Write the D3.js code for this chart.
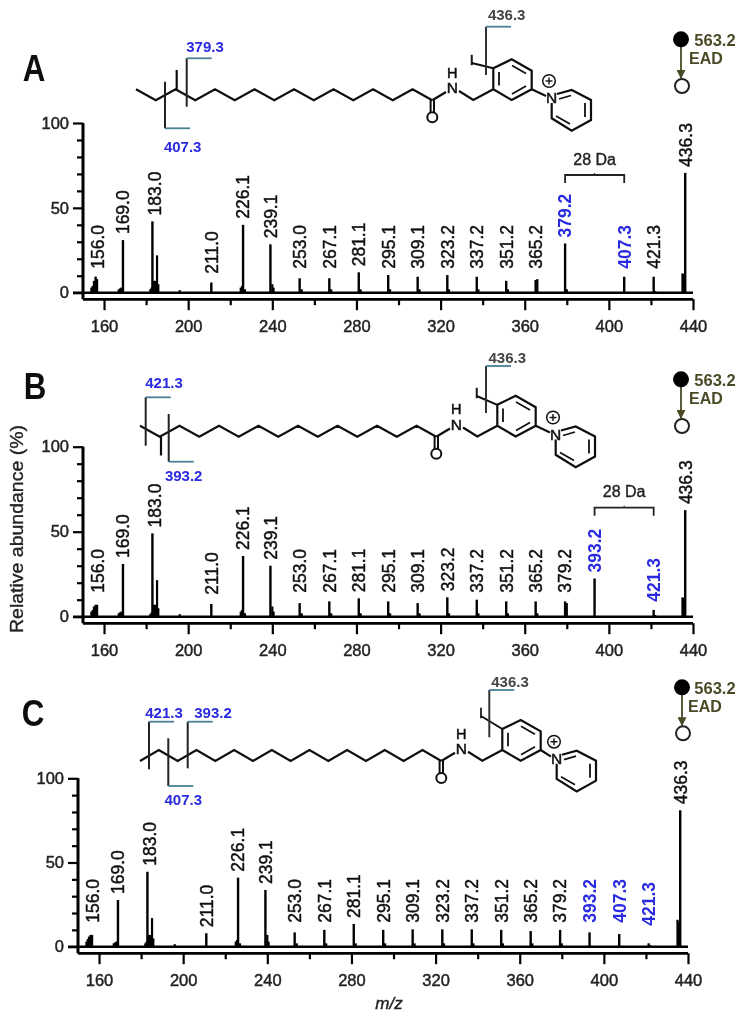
<!DOCTYPE html>
<html><head><meta charset="utf-8">
<script src="https://cdn.jsdelivr.net/npm/d3@7/dist/d3.min.js"></script>
<style>html,body{margin:0;padding:0;background:#fff}svg{display:block}
text{font-family:"Liberation Sans",Arial,sans-serif;paint-order:stroke}</style></head>
<body><svg id="c" width="750" height="1023"></svg>
<script>
// ---------- data ----------
const labelsA = ["156.0","169.0","183.0","211.0","226.1","239.1","253.0","267.1","281.1","295.1","309.1","323.2","337.2","351.2","365.2","379.2","407.3","421.3","436.3"];
const valuesA = [9.5,31,42,6,40,28.5,8.5,8.5,12,10.4,9.4,10.4,9.4,7,7.5,29,9.4,9.4,70.6];
const blueA = ["379.2","407.3"];
const labelsB = ["156.0","169.0","183.0","211.0","226.1","239.1","253.0","267.1","281.1","295.1","309.1","323.2","337.2","351.2","365.2","379.2","393.2","421.3","436.3"];
const valuesB = [7,31,49,7.5,35.7,30,8,9,10.8,9,8,11.4,10,9,9,9,22.5,4,62.7];
const blueB = ["393.2","421.3"];
const labelsC = ["156.0","169.0","183.0","211.0","226.1","239.1","253.0","267.1","281.1","295.1","309.1","323.2","337.2","351.2","365.2","379.2","393.2","407.3","421.3","436.3"];
const valuesC = [7,27.7,44.5,8,41,33.7,8.5,10,13.5,10,10.3,10.3,10.3,10,9.3,10,8.5,7.5,2,81];
const blueC = ["393.2","407.3","421.3"];
// smaller unlabelled peaks
const minorMz = [154,154.6,155.2,156.7,167,167.6,168.2,182,182.6,183.6,184.2,184.7,185.2,185.8,196,225,225.6,227,240,240.6,254,268,282,296,310,324,338,352,366,380,422,435,435.5];
const minorA  = [3,4,7,8,2,2.5,3,2,3,7,7,6,22,5,1.5,3,4,2,5,3,2,2,2,2,2,2,2,2,8,2,1,11.4,11];
const minorB  = [3,4,6,7,2,2.5,3,1.5,2.5,7,7,6,21.5,5,1.5,3,4,2,6,3,2,2,2,2,2,2,2,2,2,8,1,11.4,11];
const minorC  = [3,4.5,6,7,2,2.5,3,2,3,7,7,6,17,5,1.5,3,4,2,7,3,2,2,2,2,2,2,2,2,2,2,1,16,15];
const yMajor = [0,50,100];
const yMinor = [10,20,30,40,60,70,80,90];
const xMajor = [160,200,240,280,320,360,400,440];
const xMinor = [180,220,260,300,340,380,420];
const fragTitle = "563.2", fragMethod = "EAD", ionLabel = "436.3", gapLabel = "28 Da";
const yTitle = "Relative abundance (%)", xTitle = "m/z";

// ---------- layout ----------
const panels = [
 {name:"A",labels:labelsA,values:valuesA,blue:blueA,minor:minorA,x0:83,x1:693,y0:292.7,y100:123,
  letter:[34,81],bracket:["379.2","407.3",175],lift:{"211.0":19},
  mol:{dx:0,dy:0,pyDx:0,chainX:136,chainN:15,startHigh:true,branch:[176.7,90,70],
   cuts:[{x:165,y1:81.7,y2:128.3,top:false,label:"407.3",lx:182.7,ly:146.7},
         {x:186.7,y1:58.3,y2:106.7,top:true,label:"379.3",lx:205,ly:46.7}],
   ring:{cx:486,y1:26.7,y2:75,lx:506.7,ly:15,ix:471.7,iy:60}},
  ead:{cx:681,y1:39.3,y2:86,lx:715,ly:40,ex:706,ey:58}},
 {name:"B",labels:labelsB,values:valuesB,blue:blueB,minor:minorB,x0:83,x1:693,y0:616.7,y100:446.7,
  letter:[35,399],bracket:["393.2","421.3",507.7],lift:{"211.0":22,"421.3":15},
  mol:{dx:4,dy:336.5,pyDx:0,chainX:136,chainN:15,startHigh:true,branch:[157,100.3,119],
   cuts:[{x:145.7,y1:397.3,y2:445.7,top:true,label:"421.3",lx:164,ly:382.7},
         {x:168.7,y1:414,y2:461.7,top:false,label:"393.2",lx:183.7,ly:475.7}],
   ring:{cx:486,y1:366,y2:413,lx:507.3,ly:357.3,ix:476.7,iy:393}},
  ead:{cx:681,y1:379.3,y2:426,lx:715,ly:380,ex:706,ey:398}},
 {name:"C",labels:labelsC,values:valuesC,blue:blueC,minor:minorC,x0:78,x1:688,y0:946.7,y100:778.3,
  letter:[33,726],bracket:null,lift:{"211.0":19,"421.3":21},
  mol:{dx:9,dy:660.7,pyDx:-4,chainX:131,chainN:16,startHigh:false,branch:null,
   cuts:[{x:149,y1:721.7,y2:769.3,top:true,label:"421.3",lx:164,ly:712.7},
         {x:187.7,y1:721.7,y2:768.3,top:true,label:"393.2",lx:213,ly:712.7},
         {x:168.3,y1:738.3,y2:786,top:false,label:"407.3",lx:183.3,ly:800}],
   ring:{cx:489.3,y1:690,y2:737.3,lx:510,ly:681.7,ix:481,iy:713}},
  ead:{cx:682,y1:687.3,y2:733.3,lx:715,ly:688,ex:705,ey:706}}
];
const BLUE="#2a2ae0", TEAL="#4a7f95", OLIVE="#4a4a28", INK="#111";

const svg = d3.select("#c");
const defs = svg.append("defs");
defs.append("filter").attr("id","soft").attr("x",0).attr("y",0).attr("width",1).attr("height",1)
  .attr("filterUnits","objectBoundingBox")
  .append("feGaussianBlur").attr("stdDeviation",0.5);
defs.append("marker").attr("id","arr").attr("viewBox","0 0 10 10").attr("refX",9).attr("refY",5)
  .attr("markerWidth",9).attr("markerHeight",9).attr("markerUnits","userSpaceOnUse").attr("orient","auto")
  .append("path").attr("d","M0,0L10,5L0,10Z").attr("fill",OLIVE);
const root = svg.append("g").attr("filter","url(#soft)");
root.append("rect").attr("width",750).attr("height",1023).attr("fill","#fff");

const line = d3.line();
function seg(g,pts,w,c){g.append("path").attr("d",line(pts)).attr("fill","none").attr("stroke",c||INK).attr("stroke-width",w||1.8).attr("stroke-linejoin","miter");}
function txt(g,s,x,y,size,opt){opt=opt||{};const fill=opt.fill||INK;return g.append("text").text(s).attr("x",x).attr("y",y).attr("dy",".36em")
  .attr("text-anchor",opt.anchor||"middle").attr("font-size",size).attr("font-weight",opt.weight||"normal")
  .attr("fill",fill).attr("stroke",opt.halo?fill:"none").attr("stroke-width",opt.halo||0);}

function molecule(p){
  const m=p.mol;
  const g=root.append("g");
  const r=g.append("g").attr("transform",`translate(${m.dx},${m.dy})`);
  const HI=89.3,LO=100.3, end=432.3;
  const step=(end-m.chainX)/m.chainN;
  const chain=d3.range(m.chainN+1).map(i=>[m.chainX+i*step,((i%2===0)===m.startHigh)?HI:LO]);
  seg(r,chain,2.2);
  seg(r,[[430.6,99.5],[430.6,112.5]],2); seg(r,[[434,99.5],[434,112.5]],2);
  r.append("circle").attr("cx",432.3).attr("cy",117.3).attr("r",5).attr("fill","#fff").attr("stroke",INK).attr("stroke-width",2);
  seg(r,[[432.3,100.3],[446,92]],2.2); seg(r,[[459,91],[473.3,100],[493.3,89.3]],2.2);
  txt(r,"N",452.3,87.5,15.5,{halo:.5}); txt(r,"H",452.3,72.7,14.5,{halo:.5});
  const hex=[[493.3,89.3],[493.3,68.3],[511.7,59.3],[531.7,70.7],[531.7,89.3],[511.7,100],[493.3,89.3]];
  seg(r,hex,2.2);
  seg(r,[[499,72],[499,85.5]],1.8); seg(r,[[512,65.5],[526,73.5]],1.8); seg(r,[[512,94],[526,86]],1.8);
  const py=r.append("g").attr("transform",`translate(${m.pyDx},0)`);
  seg(r,[[531.7,89.3],[546+m.pyDx,96]],2.2);
  seg(py,[[557,94],[571.7,90],[591,100],[591,120],[571.7,130.7],[551.7,118.3],[551.7,103]],2.2);
  seg(py,[[559,99],[571,95.5]],1.8); seg(py,[[585,103],[585,117]],1.8); seg(py,[[570,124],[556,116]],1.8);
  txt(py,"N",551.7,97.7,15.5,{halo:.5});
  py.append("circle").attr("cx",549).attr("cy",81).attr("r",6.3).attr("fill","#fff").attr("stroke",INK).attr("stroke-width",1.5);
  seg(py,[[545.5,81],[552.5,81]],1.4); seg(py,[[549,77.5],[549,84.5]],1.4);
  if(m.branch){const b=m.branch; seg(r,[[b[0],b[1]],[b[0],b[2]]],2.2);}
  // iodine stub + ring cleavage
  const q=m.ring;
  seg(g,[[q.ix,q.iy+3],[493.3+m.dx,68.3+m.dy]],2);
  txt(g,"I",q.ix,q.iy,14,{halo:.6});
  seg(g,[[q.cx,q.y1],[q.cx,q.y2]],2,"#333");
  seg(g,[[q.cx,q.y1],[q.cx+25,q.y1]],1.8,TEAL);
  txt(g,ionLabel,q.lx,q.ly,15,{weight:"bold",fill:"#444"});
  // chain cleavages
  m.cuts.forEach(c=>{
    seg(g,[[c.x,c.y1],[c.x,c.y2]],2,"#222");
    const yy=c.top?c.y1:c.y2;
    seg(g,[[c.x,yy],[c.x+25,yy]],1.8,TEAL);
    txt(g,c.label,c.lx,c.ly,15,{weight:"bold",fill:BLUE});
  });
}

function eadMark(p){
  const e=p.ead,g=root.append("g");
  g.append("line").attr("x1",e.cx).attr("x2",e.cx).attr("y1",e.y1+6).attr("y2",e.y2-8)
    .attr("stroke",OLIVE).attr("stroke-width",1.8).attr("marker-end","url(#arr)");
  g.append("circle").attr("cx",e.cx).attr("cy",e.y1).attr("r",8).attr("fill","#000");
  g.append("circle").attr("cx",e.cx+1).attr("cy",e.y2).attr("r",7).attr("fill","#fff").attr("stroke","#222").attr("stroke-width",2);
  txt(g,fragTitle,e.lx,e.ly,16.5,{weight:"bold",fill:OLIVE});
  txt(g,fragMethod,e.ex,e.ey,16,{weight:"bold",fill:OLIVE});
}

panels.forEach(p=>{
  const x=d3.scaleLinear().domain([150,440]).range([p.x0,p.x1]);
  const y=d3.scaleLinear().domain([0,100]).range([p.y0,p.y100]);
  const axisY=p.y0+6.5;
  const g=root.append("g");

  g.selectAll(".mn").data(minorMz.map((m,i)=>({m,v:p.minor[i]}))).join("line")
    .attr("x1",d=>x(d.m)).attr("x2",d=>x(d.m)).attr("y1",y(0)).attr("y2",d=>y(d.v))
    .attr("stroke","#000").attr("stroke-width",2.2);
  g.selectAll(".pk").data(p.labels.map((l,i)=>({l,m:+l,v:p.values[i]}))).join("line")
    .attr("x1",d=>x(d.m)).attr("x2",d=>x(d.m)).attr("y1",y(0)).attr("y2",d=>y(d.v))
    .attr("stroke","#000").attr("stroke-width",2.4);

  g.selectAll(".lb").data(p.labels.map((l,i)=>({l,m:+l,v:p.values[i]}))).join("text")
    .text(d=>d.l)
    .attr("transform",d=>{
      const lift=p.lift[d.l]||24;
      const by=Math.min(y(d.v)-6,y(0)-lift);
      const off=(d.l==="156.0"||d.l==="183.0")?2:0;
      return `translate(${x(d.m)+off},${by}) rotate(-90)`;})
    .attr("dy",".36em").attr("font-size",17.5)
    .attr("fill",d=>p.blue.includes(d.l)?BLUE:INK)
    .attr("stroke",d=>p.blue.includes(d.l)?"none":INK).attr("stroke-width",.45)
    .attr("font-weight",d=>p.blue.includes(d.l)?"bold":"normal");

  g.append("line").attr("x1",p.x0-10).attr("x2",p.x1).attr("y1",y(0)).attr("y2",y(0)).attr("stroke","#000").attr("stroke-width",2.6);

  const ax=g.append("g").attr("transform",`translate(0,${axisY})`)
    .call(d3.axisBottom(x).tickValues(xMajor).tickSize(11).tickPadding(10).tickFormat(d3.format("d")));
  ax.append("g").call(d3.axisBottom(x).tickValues(xMinor).tickSize(6).tickFormat(""));
  ax.selectAll(".domain").attr("d",`M${p.x0},0H${p.x1}`).attr("stroke","#000").attr("stroke-width",2.6);
  ax.selectAll(".tick line").attr("stroke","#000").attr("stroke-width",2.2);
  ax.selectAll(".tick text").attr("font-size",16.5).attr("font-family",'"Liberation Sans",Arial,sans-serif').attr("fill","#222").attr("stroke","#222").attr("stroke-width",.45);

  const ay=g.append("g").attr("transform",`translate(${p.x0},0)`)
    .call(d3.axisLeft(y).tickValues(yMajor).tickSize(10).tickPadding(4).tickFormat(d3.format("d")));
  ay.append("g").call(d3.axisLeft(y).tickValues(yMinor).tickSize(6).tickFormat(""));
  ay.selectAll(".domain").attr("d",`M0,${p.y100}V${axisY}`).attr("stroke","#000").attr("stroke-width",2.6);
  ay.selectAll(".tick line").attr("stroke","#000").attr("stroke-width",2.2);
  ay.selectAll(".tick text").attr("font-size",16.5).attr("font-family",'"Liberation Sans",Arial,sans-serif').attr("fill","#222").attr("stroke","#222").attr("stroke-width",.45);

  if(p.bracket){
    const [a,b,t]=p.bracket, xa=x(+a), xb=x(+b);
    seg(g,[[xa,t+8],[xa,t],[xb,t],[xb,t+8]],1.8,"#222");
    seg(g,[[(xa+xb)/2,t],[(xa+xb)/2,t-2]],1,"#222");
    txt(g,gapLabel,(xa+xb)/2,t-16,16,{fill:"#222",halo:.4});
  }
  root.append("text").text(p.name).attr("x",p.letter[0]).attr("y",p.letter[1]).attr("text-anchor","middle")
    .attr("font-size",36).attr("font-weight","bold").attr("fill","#111")
    .attr("transform",`translate(${p.letter[0]*0.13},0) scale(0.87,1)`);
  molecule(p); eadMark(p);
});

root.append("text").text(yTitle).attr("transform","translate(23,529) rotate(-90)")
  .attr("text-anchor","middle").attr("font-size",19).attr("textLength",208).attr("lengthAdjust","spacingAndGlyphs").attr("fill","#222").attr("stroke","#222").attr("stroke-width",.35);
root.append("text").text(xTitle).attr("x",389).attr("y",1009).attr("text-anchor","middle")
  .attr("font-size",17).attr("font-style","italic").attr("fill","#222").attr("stroke","#222").attr("stroke-width",.4);
</script></body></html>
